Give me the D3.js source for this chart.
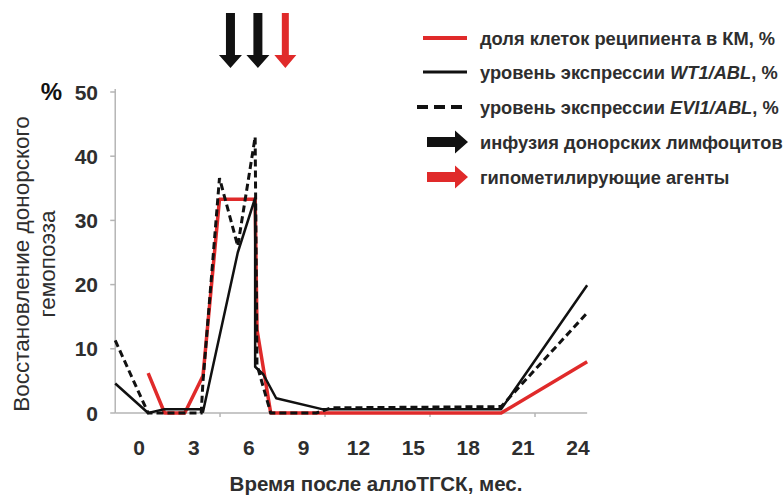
<!DOCTYPE html>
<html>
<head>
<meta charset="utf-8">
<script src="https://cdn.jsdelivr.net/npm/d3@7"></script>
<style>
  body { margin: 0; background: #fff; }
  text { font-family: "Liberation Sans", Arial, sans-serif; }
</style>
</head>
<body>
<script>
// months after allo-HSCT and values
const redMonths   = [0.5, 1.4, 2.5, 3.5, 4.4, 6.35, 6.45, 7.2, 19.8, 24.5];
const redValues   = [6.2, 0, 0, 5.8, 33.3, 33.3, 13, 0, 0, 8];
const wt1Months   = [-1.3, 0.5, 1.4, 3.4, 3.5, 5.4, 6.35, 6.35, 6.8, 7.5, 10, 19.8, 24.5];
const wt1Values   = [4.6, 0, 0.6, 0.6, 0.2, 25, 33.5, 7.2, 6, 2.3, 0.6, 0.6, 19.9];
const evi1Months  = [-1.3, 0.5, 3.4, 3.5, 4.4, 5.4, 6.35, 6.45, 7.2, 9.7, 10.5, 19.8, 24.5];
const evi1Values  = [11.3, 0, 0, 5, 36.6, 26, 43, 7.5, 0, 0, 0.8, 1, 15.6];
const dliMonths   = [5, 6.5];      // black arrows
const hmaMonths   = [8];           // red arrow
const xTickLabels = [0, 3, 6, 9, 12, 15, 18, 21, 24];
const yTickLabels = [0, 10, 20, 30, 40, 50];
const axisTickMonths = [4.43, 10.17, 15.91, 21.65];
const legendLabels = [
  ["доля клеток реципиента в КМ, %"],
  ["уровень экспрессии ", "WT1/ABL", ", %"],
  ["уровень экспрессии ", "EVI1/ABL", ", %"],
  ["инфузия донорских лимфоцитов"],
  ["гипометилирующие агенты"]
];

const RED = "#e02a2a", BLACK = "#111", GRID = "#b5b5b5", TXT = "#2e2e2e";

const svg = d3.select("body").append("svg")
    .attr("width", 783).attr("height", 497);

const x = d3.scaleLinear().domain([0, 24]).range([139, 578]);
const y = d3.scaleLinear().domain([0, 50]).range([413, 92]);
const xMin = -1.3, xMax = 24.5;

// axes
svg.append("line")
    .attr("x1", x(xMin)).attr("x2", x(xMax))
    .attr("y1", y(0)).attr("y2", y(0))
    .attr("stroke", GRID).attr("stroke-width", 1.5);
svg.append("line")
    .attr("x1", x(xMin)).attr("x2", x(xMin))
    .attr("y1", y(0)).attr("y2", y(50) - 3)
    .attr("stroke", GRID).attr("stroke-width", 1.5);

svg.selectAll(".xtm").data(axisTickMonths).enter().append("line")
    .attr("x1", d => x(d)).attr("x2", d => x(d))
    .attr("y1", y(0)).attr("y2", y(0) + 4)
    .attr("stroke", GRID).attr("stroke-width", 1.5);

svg.selectAll(".ytm").data(yTickLabels).enter().append("line")
    .attr("x1", x(xMin) - 5).attr("x2", x(xMin))
    .attr("y1", d => y(d)).attr("y2", d => y(d))
    .attr("stroke", GRID).attr("stroke-width", 1.5);

svg.selectAll(".ytl").data(yTickLabels).enter().append("text")
    .attr("x", 98).attr("y", d => y(d) + 7.5)
    .attr("text-anchor", "end")
    .attr("font-size", 21).attr("font-weight", "bold").attr("fill", TXT)
    .text(d => d);

svg.append("text")
    .attr("x", 62).attr("y", y(50) + 8)
    .attr("text-anchor", "end")
    .attr("font-size", 24).attr("font-weight", "bold").attr("fill", "#111")
    .text("%");

svg.selectAll(".xtl").data(xTickLabels).enter().append("text")
    .attr("x", d => x(d)).attr("y", 455)
    .attr("text-anchor", "middle")
    .attr("font-size", 21).attr("font-weight", "bold").attr("fill", TXT)
    .text(d => d);

svg.append("text")
    .attr("x", 376).attr("y", 491)
    .attr("text-anchor", "middle")
    .attr("font-size", 20.5).attr("font-weight", "bold").attr("fill", TXT)
    .text("Время после аллоТГСК, мес.");

const yTitle = svg.append("text")
    .attr("transform", "translate(29,264) rotate(-90)")
    .attr("text-anchor", "middle")
    .attr("font-size", 22.5).attr("fill", TXT);
yTitle.append("tspan").attr("x", 0).attr("dy", 0).text("Восстановление донорского");
yTitle.append("tspan").attr("x", 0).attr("dy", 26).text("гемопоэза");

// series
const line = d3.line().x(d => x(d[0])).y(d => y(d[1]));
const zip = (a, b) => a.map((m, i) => [m, b[i]]);

svg.append("path").datum(zip(redMonths, redValues))
    .attr("d", line).attr("fill", "none")
    .attr("stroke", RED).attr("stroke-width", 3.5).attr("stroke-linejoin", "round");
svg.append("path").datum(zip(wt1Months, wt1Values))
    .attr("d", line).attr("fill", "none")
    .attr("stroke", BLACK).attr("stroke-width", 2.5).attr("stroke-linejoin", "round");
svg.append("path").datum(zip(evi1Months, evi1Values))
    .attr("d", line).attr("fill", "none")
    .attr("stroke", BLACK).attr("stroke-width", 3).attr("stroke-dasharray", "7,4");

// arrows
function downArrow(cx, color, shaft, head) {
  const top = 13, hy = 55, tip = 68;
  svg.append("path")
    .attr("d", `M${cx - shaft / 2},${top} L${cx + shaft / 2},${top} L${cx + shaft / 2},${hy}
                L${cx + head / 2},${hy} L${cx},${tip} L${cx - head / 2},${hy}
                L${cx - shaft / 2},${hy} Z`)
    .attr("fill", color);
}
dliMonths.forEach(m => downArrow(x(m), BLACK, 9, 23));
hmaMonths.forEach(m => downArrow(x(m), RED, 7, 22));

function rightArrow(x0, cy, color) {
  const hx = 455, tip = 468, shaft = 10, head = 23;
  svg.append("path")
    .attr("d", `M${x0},${cy - shaft / 2} L${hx},${cy - shaft / 2} L${hx},${cy - head / 2}
                L${tip},${cy} L${hx},${cy + head / 2} L${hx},${cy + shaft / 2}
                L${x0},${cy + shaft / 2} Z`)
    .attr("fill", color);
}

// legend
const legY = [38, 72, 107, 142, 177];
svg.append("line").attr("x1", 423).attr("x2", 467).attr("y1", legY[0]).attr("y2", legY[0])
    .attr("stroke", RED).attr("stroke-width", 4);
svg.append("line").attr("x1", 423).attr("x2", 467).attr("y1", legY[1]).attr("y2", legY[1])
    .attr("stroke", BLACK).attr("stroke-width", 3);
svg.append("line").attr("x1", 417).attr("x2", 467).attr("y1", legY[2]).attr("y2", legY[2])
    .attr("stroke", BLACK).attr("stroke-width", 4).attr("stroke-dasharray", "11,6");
rightArrow(427, legY[3], BLACK);
rightArrow(427, legY[4], RED);

legendLabels.forEach((parts, i) => {
  const t = svg.append("text")
      .attr("x", 480).attr("y", legY[i] + 6.5)
      .attr("font-size", 18.3).attr("font-weight", "bold").attr("fill", TXT);
  parts.forEach((p, j) => {
    t.append("tspan").attr("font-style", j === 1 ? "italic" : "normal").text(p);
  });
});
</script>
</body>
</html>
